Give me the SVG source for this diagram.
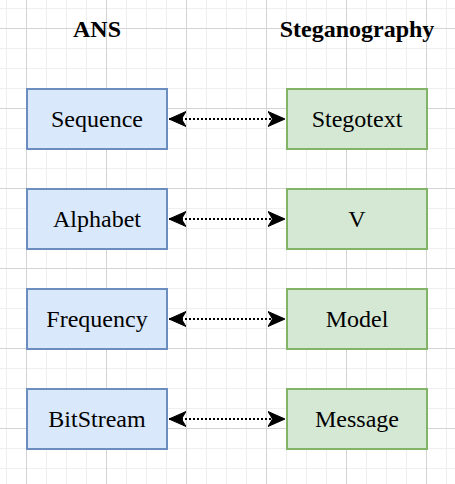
<svg xmlns="http://www.w3.org/2000/svg" width="455" height="484" viewBox="0 0 455 484">
<style>
text{font-family:"Liberation Serif","Times New Roman",serif;font-size:24px;fill:#000;text-anchor:middle}
.title{font-weight:bold}
.blue rect{fill:#dae8fc;stroke:#6c8ebf;stroke-width:2}
.green rect{fill:#d5e8d4;stroke:#82b366;stroke-width:2}
.conn{stroke:#000;stroke-width:2;stroke-dasharray:2 2;fill:none}
</style>
<defs>
<pattern id="minor" width="20" height="20" patternUnits="userSpaceOnUse" x="6" y="8">
<path d="M0 0.5H20M0.5 0V20" stroke="#efefef" stroke-width="1" fill="none"/>
</pattern>
<pattern id="major" width="80" height="80" patternUnits="userSpaceOnUse" x="26" y="28">
<path d="M0 0.5H80M0.5 0V80" stroke="#d4d4d4" stroke-width="1" fill="none"/>
</pattern>
<marker id="ah" viewBox="0 0 18 18" refX="17" refY="9" markerWidth="18" markerHeight="18" markerUnits="userSpaceOnUse" orient="auto-start-reverse">
<path d="M0 1.5L17 9L0 16.5L4.5 9Z" fill="#000" stroke="#000" stroke-width="1" stroke-linejoin="miter"/>
</marker>
</defs>
<rect width="455" height="484" fill="#fff"/>
<rect width="455" height="484" fill="url(#minor)"/>
<rect width="455" height="484" fill="url(#major)"/>
<g id="title-ans"><text class="title" x="97" y="37">ANS</text></g>
<g id="title-steg"><text class="title" x="357" y="37">Steganography</text></g>
<g id="sequence" class="blue"><rect x="27" y="89" width="140" height="60"/><text x="97" y="127">Sequence</text></g>
<g id="alphabet" class="blue"><rect x="27" y="189" width="140" height="60"/><text x="97" y="227">Alphabet</text></g>
<g id="frequency" class="blue"><rect x="27" y="289" width="140" height="60"/><text x="97" y="327">Frequency</text></g>
<g id="bitstream" class="blue"><rect x="27" y="389" width="140" height="60"/><text x="97" y="427">BitStream</text></g>
<g id="stegotext" class="green"><rect x="287" y="89" width="140" height="60"/><text x="357" y="127">Stegotext</text></g>
<g id="v" class="green"><rect x="287" y="189" width="140" height="60"/><text x="357" y="227">V</text></g>
<g id="model" class="green"><rect x="287" y="289" width="140" height="60"/><text x="357" y="327">Model</text></g>
<g id="message" class="green"><rect x="287" y="389" width="140" height="60"/><text x="357" y="427">Message</text></g>
<g id="connectors">
<path class="conn" d="M169 119H285" marker-start="url(#ah)" marker-end="url(#ah)"/>
<path class="conn" d="M169 219H285" marker-start="url(#ah)" marker-end="url(#ah)"/>
<path class="conn" d="M169 319H285" marker-start="url(#ah)" marker-end="url(#ah)"/>
<path class="conn" d="M169 419H285" marker-start="url(#ah)" marker-end="url(#ah)"/>
</g>
</svg>
